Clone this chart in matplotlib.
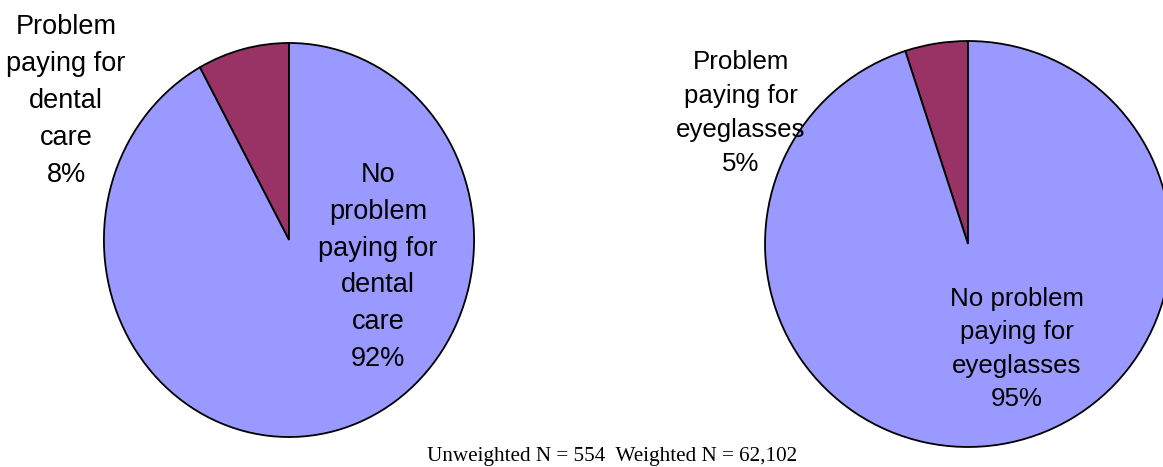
import matplotlib
matplotlib.use("Agg")
import matplotlib.pyplot as plt

# Data
dental_labels = ["Problem\npaying for\ndental\ncare", "No\nproblem\npaying for\ndental\ncare"]
dental_values = [8, 92]
eye_labels = ["Problem\npaying for\neyeglasses", "No problem\npaying for\neyeglasses"]
eye_values = [5, 95]
colors = ["#993366", "#9999FF"]
footer = "Unweighted N = 554  Weighted N = 62,102"

W, H = 1163, 467
fig = plt.figure(figsize=(W / 100, H / 100), dpi=100)
fig.patch.set_facecolor("white")

def px_axes(cx, cy, rx, ry):
    return fig.add_axes([(cx - rx) / W, 1 - (cy + ry) / H, 2 * rx / W, 2 * ry / H])

def ftext(x, y, s, size, ls):
    fig.text(x / W, 1 - y / H, s, ha="center", va="center", multialignment="center",
             fontsize=size, family="Liberation Sans", linespacing=ls)

# Left pie
ax1 = px_axes(289, 240, 186, 198)
ax1.pie(dental_values, colors=colors, startangle=90, counterclock=True,
        wedgeprops=dict(edgecolor="black", linewidth=1.3), radius=1)
ax1.set_xlim(-1.005, 1.005)
ax1.set_ylim(-1.005, 1.005)
ax1.set_aspect("auto")
ax1.axis("off")

# Right pie
ax2 = px_axes(968, 244, 204, 204)
ax2.pie(eye_values, colors=colors, startangle=90, counterclock=True,
        wedgeprops=dict(edgecolor="black", linewidth=1.3), radius=1)
ax2.set_xlim(-1.005, 1.005)
ax2.set_ylim(-1.005, 1.005)
ax2.set_aspect("auto")
ax2.axis("off")

ftext(66, 101, f"{dental_labels[0]}\n{dental_values[0]}%", 19.5, 1.54)
ftext(378, 267, f"{dental_labels[1]}\n{dental_values[1]}%", 19.5, 1.53)
ftext(741, 113, f"{eye_labels[0]}\n{eye_values[0]}%", 18.6, 1.53)
ftext(1017, 349, f"{eye_labels[1]}\n{eye_values[1]}%", 18.6, 1.50)

fig.text(612 / W, 1 - 456 / H, footer, ha="center", va="center",
         fontsize=15.2, family="Liberation Serif")

fig.savefig("out.png", dpi=100, facecolor="white")
